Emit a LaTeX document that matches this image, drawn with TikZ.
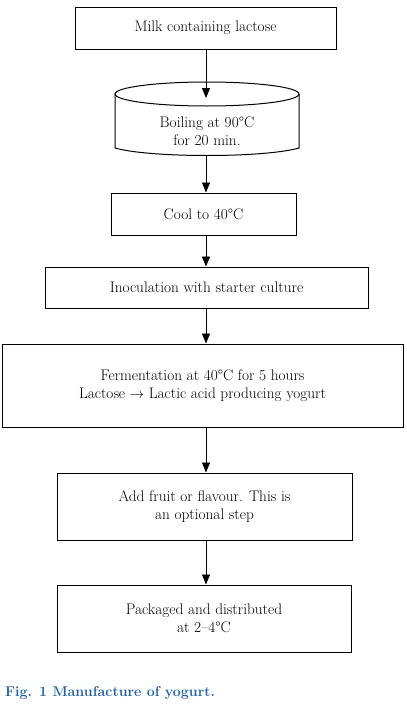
\documentclass[tikz,border=0pt]{standalone}
\usepackage{fontspec}
\usetikzlibrary{arrows.meta}
\definecolor{capblue}{RGB}{30,95,165}
\begin{document}
\begin{tikzpicture}[x=1pt,y=-1pt,
  box/.style={draw, line width=1pt, inner sep=0pt, font=\fontsize{15.3}{18}\selectfont, align=center},
  plain/.style={inner sep=0pt, font=\fontsize{15.3}{18}\selectfont, align=center},
  arr/.style={-{Triangle[length=10pt,width=8pt]}, line width=0.9pt}]
\useasboundingbox (0,0) rectangle (407,707);
\coordinate (ax) at (206,0);
\node[box, minimum width=261pt, minimum height=42pt] (milk) at (205.5,28) {Milk containing lactose};
% cylinder
\draw[line width=1pt] (207,94) ellipse [x radius=92, y radius=12];
\draw[line width=1pt] (115,94) -- (115,148) .. controls (150,158) and (264,158) .. (299,148) -- (299,94);
\node[plain] (boil) at (207,131) {Boiling at 90°C\\for 20 min.};
\coordinate (boiltop) at (206,98);
\coordinate (boilbot) at (206,156);
\node[box, minimum width=185pt, minimum height=42pt] (cool) at (203.5,214) {Cool to 40°C};
\node[box, minimum width=323pt, minimum height=41pt] (inoc) at (206.5,287.5) {Inoculation with starter culture};
\node[box, minimum width=401pt, minimum height=83pt] (ferm) at (202.5,385.5) {Fermentation at 40°C for 5 hours\\Lactose $\rightarrow$ Lactic acid producing yogurt};
\node[box, minimum width=295pt, minimum height=67pt] (add) at (204.5,506.5) {Add fruit or flavour. This is\\an optional step};
\node[box, minimum width=294pt, minimum height=67pt] (pack) at (204,618.5) {Packaged and distributed\\at 2–4°C};
\node[anchor=base west, inner sep=0pt, text=capblue, font=\fontsize{14.2}{16}\selectfont\bfseries] (cap) at (5,696) {Fig. 1 Manufacture of yogurt.};
\draw[arr] (milk.south -| ax) -- (boiltop);
\draw[arr] (boilbot) -- (cool.north -| ax);
\draw[arr] (cool.south -| ax) -- (inoc.north -| ax);
\draw[arr] (inoc.south -| ax) -- (ferm.north -| ax);
\draw[arr] (ferm.south -| ax) -- (add.north -| ax);
\draw[arr] (add.south -| ax) -- (pack.north -| ax);
\end{tikzpicture}
\end{document}
